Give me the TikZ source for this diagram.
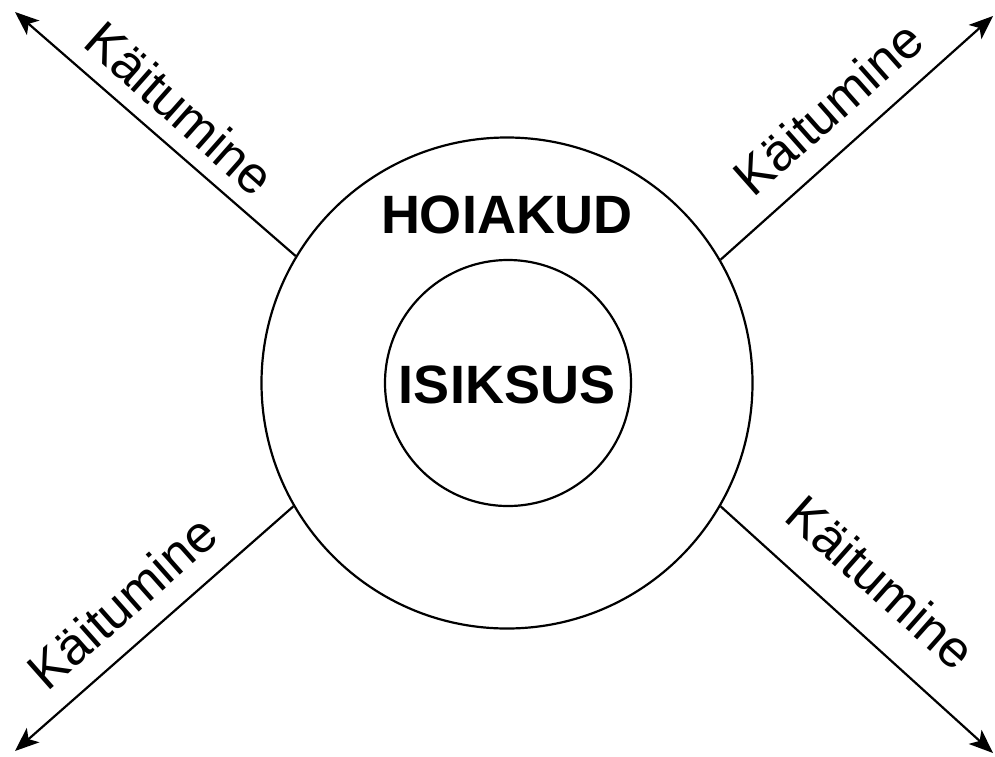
\documentclass[tikz,border=0pt]{standalone}
\usepackage{fontspec}
\setmainfont{Liberation Sans}
\usetikzlibrary{arrows.meta}
\begin{document}
\begin{tikzpicture}[x=1pt,y=-1pt,
  ring/.style={circle,draw=black,line width=2.2pt,inner sep=0pt},
  conn/.style={line width=2.2pt,-{Stealth[length=24pt,width=19pt,inset=6pt]}},
  lbl/.style={font=\fontsize{52}{60}\selectfont,inner sep=0pt},
  title/.style={font=\fontsize{54}{62}\selectfont\bfseries,inner sep=0pt}]
\useasboundingbox (0,0) rectangle (995,756);
\node[ring,minimum size=491pt] (outer) at (507,383) {};
\node[ring,minimum size=246pt] (inner) at (508,383) {};
\node[title] (hoiakud) at (507,215) {HOIAKUD};
\node[title] (isiksus) at (507,385) {ISIKSUS};
\coordinate (tul) at (15,12);
\coordinate (tur) at (993,16);
\coordinate (tll) at (15,751);
\coordinate (tlr) at (993,753);
\draw[conn] (outer.149.5) -- (tul);
\draw[conn] (outer.30) -- (tur);
\draw[conn] (outer.210) -- (tll);
\draw[conn] (outer.330) -- (tlr);
\node[lbl,rotate=-41.5] (lul) at (180,108) {Käitumine};
\node[lbl,rotate=41.5] (lur) at (828,108) {Käitumine};
\node[lbl,rotate=41.5] (lll) at (122,602) {Käitumine};
\node[lbl,rotate=-41.5] (llr) at (881,582) {Käitumine};
\end{tikzpicture}
\end{document}
